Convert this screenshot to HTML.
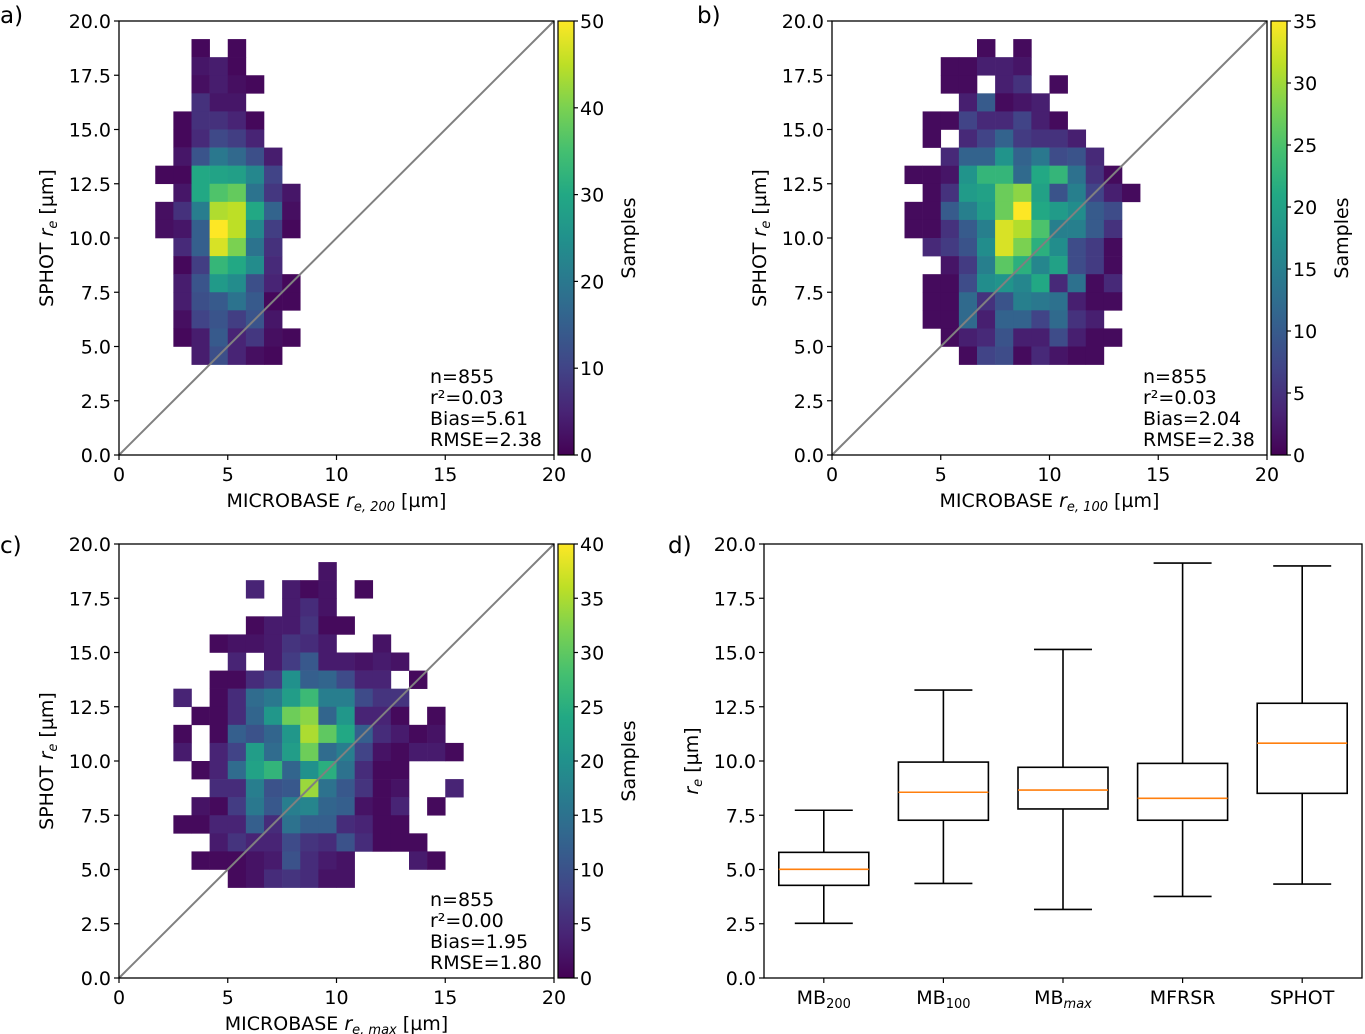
<!DOCTYPE html>
<html><head><meta charset="utf-8">
<style>
html,body{margin:0;padding:0;background:#fff;}
svg{display:block;font-family:"DejaVu Sans","Liberation Sans",sans-serif;}
text{fill:#000;}
</style></head>
<body>
<svg id="fig" width="1365" height="1034" viewBox="0 0 1365 1034" xmlns="http://www.w3.org/2000/svg"></svg>
<script>
// ---- Data ----
const rowsA = [
 [22,4,[1,0,1]],[21,4,[3,4,1]],[20,4,[2,4,2,1]],[19,4,[7,3,3]],
 [18,3,[1,7,7,5,1]],[17,3,[1,6,11,9,5]],[16,3,[3,13,20,17,12,4]],
 [15,2,[1,1,30,29,28,23,10]],[14,3,[3,30,36,38,19,8,3]],
 [13,2,[2,7,21,44,45,30,16,2]],[12,2,[2,3,15,50,45,23,9,1]],
 [11,3,[6,15,47,40,19,7]],[10,3,[1,9,33,30,24,6]],[9,3,[4,13,27,24,12,5,1]],
 [8,3,[4,12,14,19,14,1,1]],[7,3,[2,10,13,9,13,3]],[6,3,[1,4,14,5,8,2,1]],
 [5,4,[4,12,5,2,1]]
];
const rowsB = [
 [22,8,[1,0,1]],[21,6,[1,1,3,3,2]],[20,6,[1,1,0,3,5,0,1]],[19,7,[3,10,1,2,3]],
 [18,5,[1,1,7,4,4,7,3,1]],[17,5,[1,0,4,7,11,6,5,5,3]],[16,6,[4,11,11,18,11,14,8,9,4]],
 [15,4,[1,1,2,18,23,23,12,21,23,13,5,1]],[14,5,[1,5,19,20,27,29,20,9,15,7,3,1]],
 [13,4,[1,1,10,15,19,27,35,21,19,17,10,8]],[12,4,[1,1,5,10,15,33,31,25,15,15,10,5]],
 [11,5,[4,6,9,17,33,28,22,17,8,6,1]],[10,6,[2,6,15,26,22,16,20,8,6,1]],
 [9,5,[1,1,8,17,18,16,21,4,13,1,4]],[8,5,[1,1,12,5,9,15,14,13,3,1,1]],
 [7,5,[1,1,12,3,11,11,7,12,5,3]],[6,6,[1,3,4,9,3,3,8,3,1,1]],[5,7,[1,7,8,1,4,2,1,1]]
];
const rowsC = [
 [22,11,[2]],[21,7,[4,0,3,1,2,0,1]],[20,9,[3,5,2]],[19,7,[1,3,3,6,1,1]],
 [18,5,[1,2,2,3,6,5,3,0,0,2]],[17,6,[4,0,3,7,11,3,3,2,3,2]],
 [16,5,[1,1,5,7,20,12,13,9,4,4,0,1]],[15,3,[4,0,1,5,14,16,22,27,17,17,9,6,6]],
 [14,4,[1,1,5,13,21,31,33,13,21,4,4,1,0,1]],[13,3,[1,0,1,12,10,13,21,35,30,24,12,5,3,1,2]],
 [12,3,[3,0,4,8,22,14,22,31,14,17,8,2,1,3,3,1]],[11,4,[1,4,14,23,26,13,20,25,15,5,1,1]],
 [10,5,[5,5,17,10,11,34,15,11,6,1,2,0,0,4]],[9,4,[2,1,7,16,11,17,18,13,12,2,1,4,0,1]],
 [8,3,[1,1,4,4,12,5,15,12,12,5,4,1,1]],[7,5,[3,6,4,4,9,6,5,10,5,1,1,1]],
 [6,4,[1,1,1,2,3,10,5,3,2,0,0,0,3,1]],[5,6,[1,2,5,6,5,2,2]]
];
const statsA = ["n=855","r²=0.03","Bias=5.61","RMSE=2.38"];
const statsB = ["n=855","r²=0.03","Bias=2.04","RMSE=2.38"];
const statsC = ["n=855","r²=0.00","Bias=1.95","RMSE=1.80"];
const axisTicks = [0,5,10,15,20];
const yTicks = [0,2.5,5,7.5,10,12.5,15,17.5,20];
const cbTicksA = [0,10,20,30,40,50];
const cbTicksB = [0,5,10,15,20,25,30,35];
const cbTicksC = [0,5,10,15,20,25,30,35,40];
const boxNames = ["200","100","max","MFRSR","SPHOT"];
const boxLow = [2.52,4.36,3.16,3.76,4.33];
const boxQ1 = [4.27,7.27,7.79,7.27,8.51];
const boxMed = [5.01,8.56,8.66,8.28,10.82];
const boxQ3 = [5.79,9.95,9.71,9.89,12.66];
const boxHigh = [7.73,13.27,15.14,19.12,18.99];

const FS=19, SUB=13;
const NS="http://www.w3.org/2000/svg";
const svg=document.getElementById('fig');
function mk(tag,attrs,parent){const e=document.createElementNS(NS,tag);for(const k in attrs)e.setAttribute(k,attrs[k]);(parent||svg).appendChild(e);return e;}
const stops=[[0,[68,1,84]],[0.1,[72,36,117]],[0.2,[65,68,135]],[0.3,[53,95,141]],[0.4,[42,120,142]],[0.5,[33,145,140]],[0.6,[34,168,132]],[0.7,[68,191,112]],[0.8,[122,209,81]],[0.9,[189,223,38]],[1,[253,231,37]]];
function viridis(t){t=Math.max(0,Math.min(1,t));for(let i=1;i<stops.length;i++){if(t<=stops[i][0]){const a=stops[i-1],b=stops[i];const f=(t-a[0])/(b[0]-a[0]);const c=a[1].map((v,j)=>Math.round(v+(b[1][j]-v)*f));return `rgb(${c[0]},${c[1]},${c[2]})`;}}return 'rgb(253,231,37)';}
function fmt(v){return v.toFixed(1);}

function heatPanel(id,x0,yTop,rows,vmax,cbTicks,stats,sub,plabel,plx,ply){
  const W=435,H=434,x1=x0+W,yB=yTop+H;
  const g=mk('g',{});
  
  
  const sx=v=>x0+v/20*W, sy=v=>yB-v/20*H;
  const bw=20/24;
  rows.forEach(r=>{const row=r[0],c0=r[1];r[2].forEach((v,k)=>{if(v<=0)return;const c=c0+k;
    const rc=mk('rect',{x:sx(c*bw),y:sy((row+1)*bw),width:sx((c+1)*bw)-sx(c*bw)+0.3,height:sy(row*bw)-sy((row+1)*bw)+0.3,fill:viridis(v/vmax)},g);
    
    });});
  const dl=mk('line',{x1:sx(0),y1:sy(0),x2:sx(20),y2:sy(20),stroke:'#808080','stroke-width':2},g);
  
  
  const fr=mk('rect',{x:x0,y:yTop,width:W,height:H,fill:'none',stroke:'#000','stroke-width':1.3},g);
  
  
  axisTicks.forEach(t=>{mk('line',{x1:sx(t),x2:sx(t),y1:yB,y2:yB+5,stroke:'#000','stroke-width':1.2},g);
    const tx=mk('text',{x:sx(t),y:yB+26,'font-size':FS,'text-anchor':'middle'},g);tx.textContent=t;
    
    });
  yTicks.forEach(t=>{mk('line',{x1:x0-5,x2:x0,y1:sy(t),y2:sy(t),stroke:'#000','stroke-width':1.2},g);
    const tx=mk('text',{x:x0-8,y:sy(t)+7,'font-size':FS,'text-anchor':'end'},g);tx.textContent=fmt(t);
    
    });
  const xl=mk('text',{x:(x0+x1)/2,y:yB+52,'font-size':FS,'text-anchor':'middle'},g);
  xl.innerHTML='MICROBASE <tspan font-style="italic">r</tspan><tspan font-style="italic" font-size="'+SUB+'" dy="4">e, '+sub+'</tspan><tspan dy="-4"> [µm]</tspan>';
  
  
  const yl=mk('text',{x:0,y:0,'font-size':FS,'text-anchor':'middle',transform:`translate(${x0-66},${(yTop+yB)/2}) rotate(-90)`},g);
  yl.innerHTML='SPHOT <tspan font-style="italic">r</tspan><tspan font-style="italic" font-size="'+SUB+'" dy="4">e</tspan><tspan dy="-4"> [µm]</tspan>';
  
  
  stats.forEach((s,i)=>{const t=mk('text',{x:x0+311,y:yB-72+i*21,'font-size':FS},g);t.textContent=s;
    
    });
  const cx=x1+4,cw=16;
  const gid='grad'+id;
  const defs=mk('defs',{},g);const lg=mk('linearGradient',{id:gid,x1:0,y1:1,x2:0,y2:0},defs);
  for(let i=0;i<=20;i++)mk('stop',{offset:i/20,'stop-color':viridis(i/20)},lg);
  const cb=mk('rect',{x:cx,y:yTop,width:cw,height:H,fill:`url(#${gid})`,stroke:'#000','stroke-width':1.2},g);
  
  
  cbTicks.forEach(t=>{const y=yB-t/vmax*H;mk('line',{x1:cx+cw,x2:cx+cw+4,y1:y,y2:y,stroke:'#000','stroke-width':1.2},g);
    const tx=mk('text',{x:cx+cw+6,y:y+7,'font-size':FS},g);tx.textContent=t;
    
    });
  const sl=mk('text',{x:0,y:0,'font-size':FS,'text-anchor':'middle',transform:`translate(${cx+cw+61},${(yTop+yB)/2}) rotate(-90)`},g);sl.textContent='Samples';
  
  
  const pl=mk('text',{x:plx,y:ply,'font-size':23},g);pl.textContent=plabel;
  
  
}
heatPanel('a',119,21,rowsA,50,cbTicksA,statsA,'200','a)',0,23);
heatPanel('b',832,21,rowsB,35,cbTicksB,statsB,'100','b)',697,23);
heatPanel('c',119,544,rowsC,40,cbTicksC,statsC,'max','c)',0,553);

(function(){
  const x0=764,x1=1362,yT=544,yB=978,W=x1-x0,H=yB-yT;
  const g=mk('g',{});
  
  
  const sx=i=>x0+(i+0.5)/5*W, sy=v=>yB-v/20*H;
  const fr=mk('rect',{x:x0,y:yT,width:W,height:H,fill:'none',stroke:'#000','stroke-width':1.3},g);
  
  
  yTicks.forEach(t=>{mk('line',{x1:x0-5,x2:x0,y1:sy(t),y2:sy(t),stroke:'#000','stroke-width':1.2},g);
    const tx=mk('text',{x:x0-8,y:sy(t)+7,'font-size':FS,'text-anchor':'end'},g);tx.textContent=fmt(t);
    
    });
  boxNames.forEach((n,i)=>{
    const cx=sx(i),bw=45,cw=29;
    const bg=mk('g',{},g);
    
    
    const st={stroke:'#000','stroke-width':1.6};
    mk('line',Object.assign({x1:cx,x2:cx,y1:sy(boxHigh[i]),y2:sy(boxQ3[i])},st),bg);
    mk('line',Object.assign({x1:cx,x2:cx,y1:sy(boxQ1[i]),y2:sy(boxLow[i])},st),bg);
    mk('line',Object.assign({x1:cx-cw,x2:cx+cw,y1:sy(boxHigh[i]),y2:sy(boxHigh[i])},st),bg);
    mk('line',Object.assign({x1:cx-cw,x2:cx+cw,y1:sy(boxLow[i]),y2:sy(boxLow[i])},st),bg);
    mk('rect',Object.assign({x:cx-bw,y:sy(boxQ3[i]),width:2*bw,height:sy(boxQ1[i])-sy(boxQ3[i]),fill:'none'},st),bg);
    mk('line',{x1:cx-bw,x2:cx+bw,y1:sy(boxMed[i]),y2:sy(boxMed[i]),stroke:'#ff7f0e','stroke-width':1.6},bg);
    mk('line',{x1:cx,x2:cx,y1:yB,y2:yB+5,stroke:'#000','stroke-width':1.2},g);
    const tx=mk('text',{x:cx,y:yB+26,'font-size':FS,'text-anchor':'middle'},g);
    if(n==='200'||n==='100')tx.innerHTML='MB<tspan font-size="'+SUB+'" dy="4">'+n+'</tspan>';
    else if(n==='max')tx.innerHTML='MB<tspan font-size="'+SUB+'" dy="4" font-style="italic">max</tspan>';
    else tx.textContent=n;
    
    
  });
  const yl=mk('text',{x:0,y:0,'font-size':FS,'text-anchor':'middle',transform:`translate(${x0-66},${(yT+yB)/2}) rotate(-90)`},g);
  yl.innerHTML='<tspan font-style="italic">r</tspan><tspan font-style="italic" font-size="'+SUB+'" dy="4">e</tspan><tspan dy="-4"> [µm]</tspan>';
  
  
  const pl=mk('text',{x:668,y:553,'font-size':23},g);pl.textContent='d)';
  
  
})();
</script>
</body></html>
